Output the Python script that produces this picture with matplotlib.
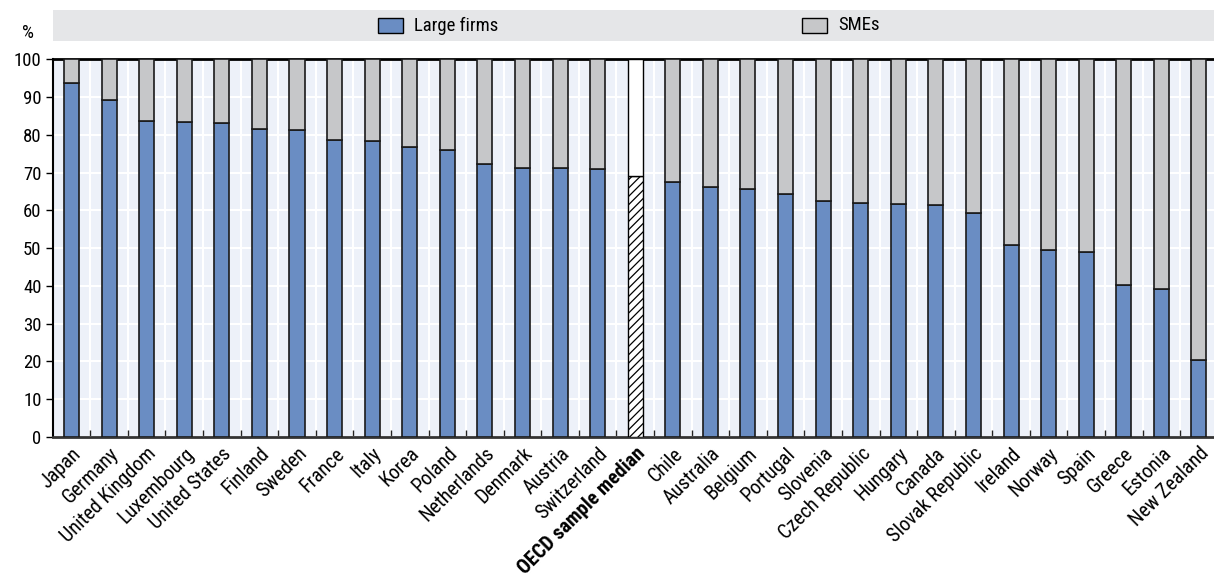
import matplotlib
matplotlib.use("Agg")
import matplotlib.pyplot as plt
from matplotlib.patches import Rectangle
import numpy as np

countries = [
    "Japan", "Germany", "United Kingdom", "Luxembourg", "United States",
    "Finland", "Sweden", "France", "Italy", "Korea", "Poland",
    "Netherlands", "Denmark", "Austria", "Switzerland",
    "OECD sample median", "Chile", "Australia", "Belgium", "Portugal",
    "Slovenia", "Czech Republic", "Hungary", "Canada", "Slovak Republic",
    "Ireland", "Norway", "Spain", "Greece", "Estonia", "New Zealand",
]
large_firms = [
    93.7, 89.1, 83.6, 83.3, 83.1, 81.6, 81.4, 78.6, 78.3, 76.8, 76.0,
    72.3, 71.3, 71.2, 71.0, 69.2, 67.4, 66.3, 65.7, 64.4, 62.4, 61.9,
    61.7, 61.5, 59.3, 50.9, 49.5, 48.9, 40.2, 39.2, 20.4,
]
smes = [100 - v for v in large_firms]
median_label = "OECD sample median"
yticks = list(range(0, 101, 10))

plt.rcParams["font.family"] = ["Roboto Condensed", "DejaVu Sans"]
plt.rcParams["hatch.linewidth"] = 0.9

BLUE = "#6A8DC3"
GREY = "#C6C7C9"
BG = "#EDF1F9"

W, H = 1214, 577
fig = plt.figure(figsize=(W / 100, H / 100), dpi=100)
ax = fig.add_axes([52.7 / W, 1 - 437 / H, (W - 52.7) / W, (437 - 59.3) / H])
ax.set_facecolor(BG)

x = np.arange(len(countries))
width = 0.4
for i, (name, lf, sm) in enumerate(zip(countries, large_firms, smes)):
    if name == median_label:
        ax.bar(i, lf, width, color="white", edgecolor="black", hatch="////",
               linewidth=1.0, zorder=3)
        ax.bar(i, sm, width, bottom=lf, color="white", edgecolor="black",
               linewidth=1.0, zorder=3)
    else:
        ax.bar(i, lf, width, color=BLUE, edgecolor="#1a1a1a", linewidth=1.2, zorder=3)
        ax.bar(i, sm, width, bottom=lf, color=GREY, edgecolor="#1a1a1a",
               linewidth=1.2, zorder=3)

ax.set_xlim(-0.5, len(countries) - 0.5 - 0.1)
ax.set_ylim(0, 100)
ax.set_yticks(yticks)
ax.set_yticklabels([str(t) for t in yticks], fontsize=13.5)
ax.tick_params(axis="y", length=5, width=1, color="black", pad=3)

ax.set_xticks(x)
labels = ax.set_xticklabels(countries, rotation=45, ha="right",
                            rotation_mode="anchor", fontsize=14.5)
for lab in labels:
    if lab.get_text() == median_label:
        lab.set_fontweight("bold")
ax.tick_params(axis="x", length=0, pad=5)
ax.set_xticks(x[:-1] + 0.5, minor=True)
ax.tick_params(axis="x", which="minor", direction="in", length=5, width=1,
               color="#222222")

ax.grid(axis="y", which="major", color="white", linewidth=1.5, zorder=0)
ax.grid(axis="x", which="minor", color="white", linewidth=1.5, zorder=0)
ax.grid(axis="x", which="major", visible=False)
ax.set_axisbelow(True)

ax.spines["right"].set_visible(False)
ax.spines["top"].set_linewidth(2)
ax.spines["left"].set_linewidth(1.5)
ax.spines["bottom"].set_linewidth(2)
ax.spines["bottom"].set_color("#333333")

# legend band
fig.patches.append(Rectangle((53 / W, 1 - 41 / H), (W - 53) / W, 31 / H,
                             transform=fig.transFigure, facecolor="#E5E6E8",
                             edgecolor="none", zorder=0))
for px, txt, col in [(378, "Large firms", BLUE), (802, "SMEs", GREY)]:
    fig.patches.append(Rectangle((px / W, 1 - 33 / H), 25 / W, 15 / H,
                                 transform=fig.transFigure, facecolor=col,
                                 edgecolor="black", linewidth=1, zorder=2))
    fig.text((px + 36) / W, 1 - 25.5 / H, txt, fontsize=13.5, va="center",
             ha="left")
fig.text(28 / W, 1 - 33 / H, "%", fontsize=13.5, ha="center", va="center")

fig.savefig("out.png", dpi=100)
